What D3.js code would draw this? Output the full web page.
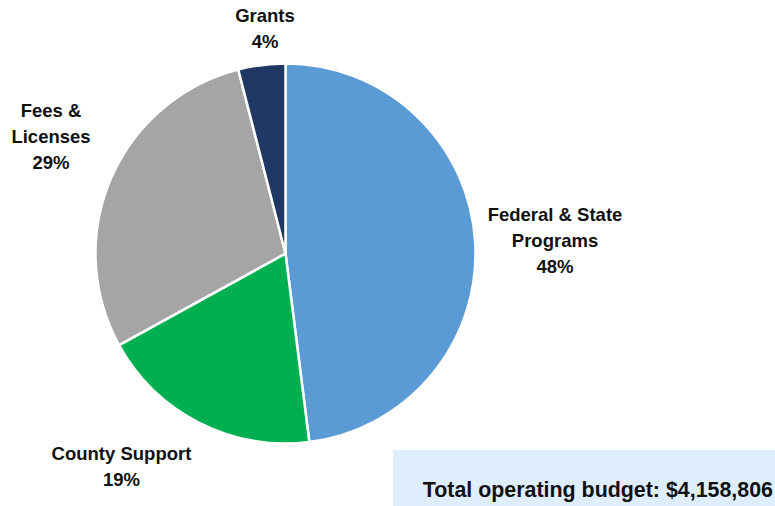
<!DOCTYPE html>
<html>
<head>
<meta charset="utf-8">
<script src="https://cdn.jsdelivr.net/npm/d3@7"></script>
<style>
  html, body { margin: 0; padding: 0; background: #fff; }
  svg { display: block; font-family: "Liberation Sans", Arial, sans-serif; }
</style>
</head>
<body>
<svg id="chart" width="775" height="506"></svg>
<script>
// Operating budget sources, clockwise from 12 o'clock
const categories = ["Federal & State Programs", "County Support", "Fees & Licenses", "Grants"];
const shares = [48, 19, 29, 4];
const colors = ["#5B9BD5", "#00B050", "#A5A5A5", "#203864"];
// Label lines and anchor points for each slice
const labelLines = [["Federal & State", "Programs", "48%"], ["County Support", "19%"], ["Fees &", "Licenses", "29%"], ["Grants", "4%"]];
const labelPos = [[555, 221], [121.5, 460], [51, 117], [265, 22]];
const totalText = "Total operating budget: $4,158,806";

const svg = d3.select("#chart");
const cx = 285.5, cy = 253.5, radius = 190;

const data = categories.map((c, i) => ({ name: c, value: shares[i], color: colors[i] }));

const pie = d3.pie().value(d => d.value).sort(null);
const arc = d3.arc().innerRadius(0).outerRadius(radius);

const g = svg.append("g").attr("transform", `translate(${cx},${cy})`);
g.selectAll("path")
  .data(pie(data))
  .join("path")
  .attr("d", arc)
  .attr("fill", d => d.data.color)
  .attr("stroke", "#fff")
  .attr("stroke-width", 2.5)
  .attr("stroke-linejoin", "round");

// Slice labels
data.forEach((d, i) => {
  const t = svg.append("text")
    .attr("x", labelPos[i][0])
    .attr("y", labelPos[i][1])
    .attr("text-anchor", "middle")
    .attr("font-size", 18.5)
    .attr("font-weight", "bold")
    .attr("fill", "#111");
  labelLines[i].forEach((line, j) => {
    t.append("tspan")
      .attr("x", labelPos[i][0])
      .attr("dy", j === 0 ? 0 : 25.8)
      .text(line);
  });
});

// Total budget box
svg.append("rect")
  .attr("x", 393).attr("y", 450)
  .attr("width", 382).attr("height", 56)
  .attr("fill", "#DEEEFC");
svg.append("text")
  .attr("x", 773).attr("y", 497)
  .attr("text-anchor", "end")
  .attr("font-size", 21.4)
  .attr("font-weight", "bold")
  .attr("fill", "#111")
  .text(totalText);
</script>
</body>
</html>
